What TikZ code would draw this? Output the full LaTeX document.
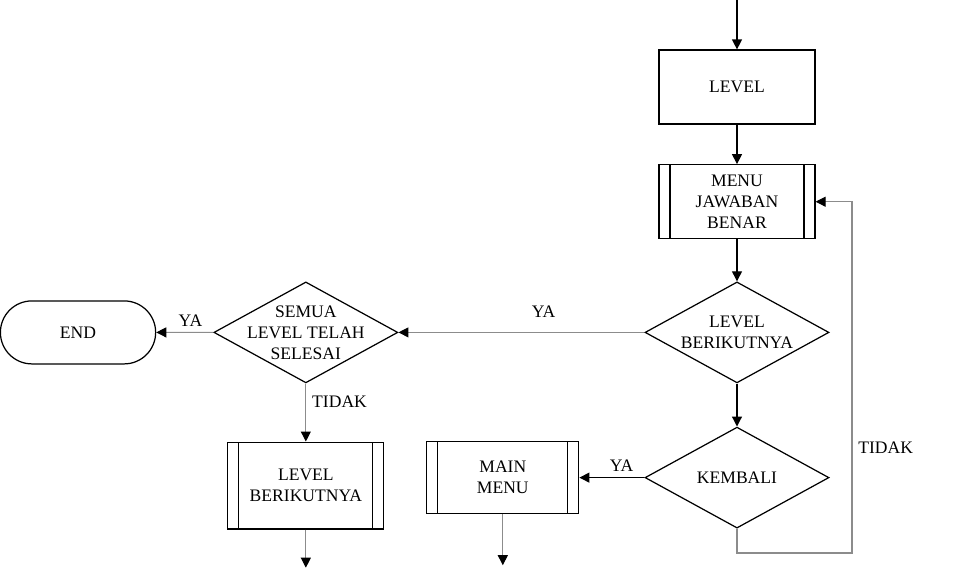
\documentclass[tikz,border=0pt]{standalone}
\usepackage{fontspec}
\setmainfont{Liberation Serif}
\usetikzlibrary{arrows.meta,positioning,shapes.geometric,shapes.misc}

\begin{document}
\begin{tikzpicture}[x=0.02cm,y=-0.02cm,>={Triangle[length=2mm,width=2mm,black]},
line width=0.7pt,font=\fontsize{10}{12}\selectfont]
\tikzstyle{proc}=[draw,rectangle,minimum width=3.12cm,minimum height=1.48cm,align=center]
\tikzstyle{subproc}=[proc,path picture={
  \draw ([xshift=0.22cm]path picture bounding box.north west) -- ([xshift=0.22cm]path picture bounding box.south west)
        ([xshift=-0.22cm]path picture bounding box.north east) -- ([xshift=-0.22cm]path picture bounding box.south east);}]
\tikzstyle{decision}=[draw,diamond,shape aspect=1.82,minimum width=3.68cm,minimum height=2.02cm,inner sep=-6pt,align=center]
\tikzstyle{term}=[draw,rounded rectangle,minimum width=3.34cm,minimum height=1.26cm]
\tikzstyle{pale}=[draw=black!45,line width=0.6pt]

\useasboundingbox (0,0) rectangle (954,571);

\coordinate (start) at (737,0);
\node[proc]     (level)    at (737,87)          {LEVEL};
\node[subproc]  (menu)     [below=0.79cm of level]  {MENU\\JAWABAN\\BENAR};
\node[decision] (berikut)  [below=0.84cm of menu]   {LEVEL\\BERIKUTNYA};
\node[decision] (kembali)  [below=0.86cm of berikut] {KEMBALI};
\node[subproc,minimum width=3.04cm,minimum height=1.44cm] (mainmenu) [left=1.3cm of kembali] {MAIN\\MENU};
\node[decision] (semua)    [left=4.92cm of berikut] {SEMUA\\LEVEL TELAH\\SELESAI};
\node[term]     (end)      [left=1.14cm of semua]   {END};
\node[subproc,minimum height=1.74cm] (lanjut) [below=1.16cm of semua] {LEVEL\\BERIKUTNYA};
\coordinate[below=0.76cm of lanjut] (lanjutout);
\coordinate[below=1.02cm of mainmenu] (mainout);
\coordinate (loop) at (852,553);

\draw[->] (start) -- (level);
\draw[->] (level) -- (menu);
\draw[->] (menu) -- (berikut);
\draw[->] (berikut) -- (kembali);
\draw[->] (kembali) -- node[above,pos=0.35] {YA} (mainmenu);
\draw[->,pale] (kembali.south) |- (loop) -- node[right,pos=0.3] {TIDAK} (loop |- menu.east) -- (menu.east);
\draw[->,pale] (berikut) -- node[above=5pt,pos=0.41] {YA} (semua);
\draw[->,pale] (semua) -- node[above,pos=0.4] {YA} (end);
\draw[->,pale] (semua) -- node[right,pos=0.31] {TIDAK} (lanjut);
\draw[->,pale] (lanjut) -- (lanjutout);
\draw[->,pale] (mainmenu) -- (mainout);
\end{tikzpicture}
\end{document}
